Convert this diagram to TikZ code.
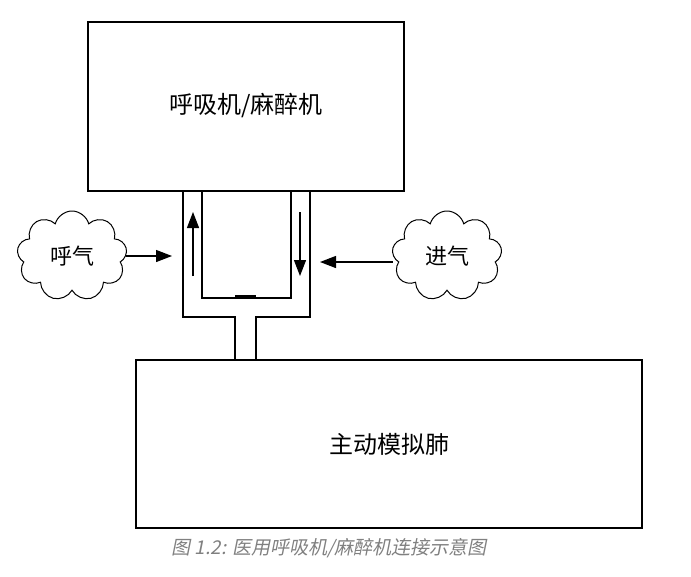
\documentclass[tikz,border=0pt]{standalone}
\usepackage{fontspec}
\setmainfont{Noto Sans CJK SC}
\newfontfamily\capfont[FakeSlant=0.2]{Noto Sans CJK SC}
\usetikzlibrary{shapes.symbols,arrows.meta}
\tikzset{
  box/.style={draw,line width=1.5pt,inner sep=0pt},
  puff/.style={draw,cloud,cloud puffs=9,aspect=1.3,line width=1pt,minimum width=110pt,minimum height=90pt,font=\fontsize{22}{24}\selectfont},
  flow/.style={-{Triangle[length=16pt,width=12pt]},line width=1.3pt},
  pipe/.style={line width=1.8pt}
}
\begin{document}
\begin{tikzpicture}[x=1pt,y=-1pt]
\useasboundingbox (0,0) rectangle (691,576);
\draw[box] (88,22) rectangle (404,191);
\node[font=\fontsize{24}{26}\selectfont] (vent) at (246,106) {呼吸机/麻醉机};
\draw[box] (136,360) rectangle (642,528);
\node[font=\fontsize{24}{26}\selectfont] (lung) at (389,444) {主动模拟肺};
% tubing
\draw[pipe] (183,191) -- (183,317) -- (235,317) -- (235,360);
\draw[pipe] (256,360) -- (256,317) -- (310,317) -- (310,191);
\draw[pipe] (202,191) -- (202,298) -- (291,298) -- (291,191);
\draw[line width=4pt] (235,297) -- (256,297);
\coordinate (upA) at (193,276);
\coordinate (upB) at (193,212);
\coordinate (dnA) at (300,212);
\coordinate (dnB) at (300,276);
\draw[flow] (upA) -- (upB);
\draw[flow] (dnA) -- (dnB);
% clouds
\node[puff] (exh) at (72,256) {呼气};
\node[puff] (inh) at (447,256) {进气};
\coordinate (exhT) at (172,256);
\coordinate (inhT) at (320,262);
\draw[flow] (exh.east |- exhT) -- (exhT);
\draw[flow] (inh.west |- inhT) -- (inhT);
\node[font=\capfont\fontsize{19}{21}\selectfont,text=gray] (cap) at (329,548) {图 1.2: 医用呼吸机/麻醉机连接示意图};
\end{tikzpicture}
\end{document}
